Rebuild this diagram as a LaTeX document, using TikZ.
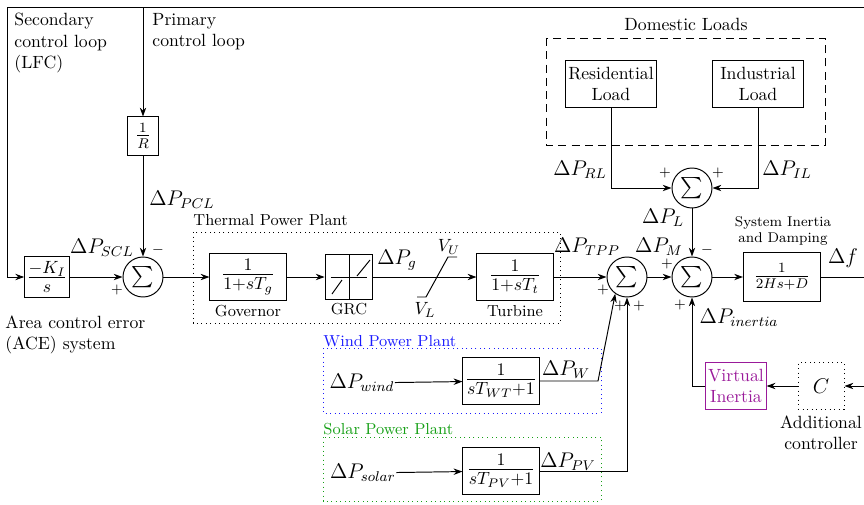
\documentclass[tikz,border=0pt]{standalone}
\usepackage{amsmath,amssymb}
\usepackage{xcolor}
\usetikzlibrary{arrows.meta,positioning,calc}
\definecolor{WindBlue}{HTML}{1A1AFF}
\definecolor{SolarGreen}{HTML}{16A016}
\definecolor{InertiaPurple}{HTML}{9A1A9A}

\begin{document}
\begin{tikzpicture}[x=0.565pt,y=-0.565pt,>={Stealth[length=5pt,width=3.6pt]},line width=0.55pt]
  \tikzset{block/.style={draw,minimum width=43pt,minimum height=26.5pt,inner sep=1pt,font=\Large},
    sumnode/.style={draw,circle,minimum size=22.6pt,inner sep=0pt,font=\large},
    sig/.style={font=\large,inner sep=0pt},
    sgn/.style={font=\footnotesize,inner sep=0pt},
    note/.style={align=left,inner sep=0pt},
    caption/.style={font=\small,inner sep=0pt},
    plant/.style={draw,dotted,line width=0.55pt}}
  \useasboundingbox (0,0) rectangle (864,504);
  \node[block,minimum width=21.5pt,minimum height=23.7pt] (ki) at (47,277) {$\frac{-K_I}{s}$};
  \node[sumnode] (sum1) at (143,277) {$\sum$};
  \node[block,minimum width=18pt,minimum height=21.5pt,font=\large] (invR) at (143,136) {$\frac{1}{R}$};
  \node[block] (gov) at (248,277) {$\frac{1}{1+sT_g}$};
  \node[block,minimum width=27pt,minimum height=25pt] (grc) at (349,277) {};
  \node[block] (tur) at (515,277) {$\frac{1}{1+sT_t}$};
  \node[sumnode] (sum2) at (627,277) {$\sum$};
  \node[sumnode] (sum3) at (692,277) {$\sum$};
  \node[block,minimum width=43.5pt,minimum height=28pt,font=\large] (sys) at (782,277) {$\frac{1}{2Hs+D}$};
  \node[sumnode] (sumL) at (692,188) {$\sum$};
  \node[block,minimum width=51.4pt,minimum height=27pt,font=\normalsize,align=center] (res) at (611,84) {Residential\\Load};
  \node[block,minimum width=51pt,minimum height=27pt,font=\normalsize,align=center] (ind) at (758,84) {Industrial\\Load};
  \node[block,minimum height=27pt] (wind) at (501,381) {$\frac{1}{sT_{WT}+1}$};
  \node[block,minimum height=27pt] (solar) at (501,471) {$\frac{1}{sT_{PV}+1}$};
  \node[block,draw=InertiaPurple,text=InertiaPurple,minimum width=34pt,minimum height=27pt,font=\normalsize,align=center] (vi) at (736,386) {Virtual\\Inertia};
  \node[block,plant,minimum width=26pt,minimum height=26.5pt,font=\large] (ctrl) at (821,386) {$C$};
  \node[below=2pt of gov,caption] {Governor};
  \node[below=2pt of grc,caption] {GRC};
  \node[below=2pt of tur,caption] {Turbine};
  \node[below=3pt of ctrl,align=center,inner sep=0pt] {Additional\\controller};
  \node[sig] (pwind) at (362,383) {$\Delta P_{wind}$};
  \node[sig] (psolar) at (363,473) {$\Delta P_{solar}$};
  \coordinate (fbL) at (7,7);
  \coordinate (fbR) at (864,7);
  \coordinate (fOut) at (864,277);
  \coordinate (cIn) at (864,386);
  \coordinate (wBend) at (598,381);
  \draw[plant] (193,232) rectangle (560,323);
  \draw[plant,WindBlue] (323,348) rectangle (601,413);
  \draw[plant,SolarGreen] (323,437) rectangle (601,501);
  \draw[dash pattern=on 4.5pt off 3pt] (546,38) rectangle (825,145);
  \node[note,anchor=west] at (14,43) {Secondary\\control loop\\(LFC)};
  \node[note,anchor=west] at (152,32) {Primary\\control loop};
  \node[note,anchor=west] at (5,335) {Area control error\\(ACE) system};
  \node at (686,24) {Domestic Loads};
  \node[caption,anchor=west] at (193,220) {Thermal Power Plant};
  \node[caption,anchor=west,WindBlue] at (323,341) {Wind Power Plant};
  \node[caption,anchor=west,SolarGreen] at (323,429) {Solar Power Plant};
  \node[font=\footnotesize,align=center,inner sep=0pt] at (783,231) {System Inertia\\and Damping};
  \node[sig] at (182,200) {$\Delta P_{PCL}$};
  \node[sig] at (102,248) {$\Delta P_{SCL}$};
  \node[sig] at (397,260) {$\Delta P_g$};
  \node[sig,font=\normalsize] at (449,247) {$V_U$};
  \node[sig,font=\normalsize] at (425,310) {$V_L$};
  \node[sig] at (587,247) {$\Delta P_{TPP}$};
  \node[sig] at (659,247) {$\Delta P_M$};
  \node[sig] at (663,218) {$\Delta P_L$};
  \node[sig] at (580,170) {$\Delta P_{RL}$};
  \node[sig] at (787,170) {$\Delta P_{IL}$};
  \node[sig] at (566,370) {$\Delta P_W$};
  \node[sig] at (568,462) {$\Delta P_{PV}$};
  \node[sig] at (739,318) {$\Delta P_{inertia}$};
  \node[sig] at (843,258) {$\Delta f$};
  \node[sgn] at (158,250) {$-$};
  \node[sgn] at (117,290) {$+$};
  \node[sgn] at (665,173) {$+$};
  \node[sgn] at (718,173) {$+$};
  \node[sgn] at (603,290) {$+$};
  \node[sgn] at (620,306) {$+$};
  \node[sgn] at (639,306) {$+$};
  \node[sgn] at (667,264) {$+$};
  \node[sgn] at (707,250) {$-$};
  \node[sgn] at (680,305) {$+$};
  \draw ($(grc.north)$) -- (grc.south);
  \draw ($(grc.west)+(6,0)$) -- ($(grc.east)+(-6,0)$);
  \draw ($(grc.center)+(-17,17)$) -- ($(grc.center)+(-7,3)$);
  \draw ($(grc.center)+(8,-1)$) -- ($(grc.center)+(21,-17)$);
  \draw (417,297) -- (426,297) -- (448,257) -- (457,257);
  \draw[->] (fbR) -- (fbL) |- (ki.west);
  \draw[->] (invR |- fbL) -- (invR);
  \draw[->] (invR) -- (sum1);
  \draw[->] (ki) -- (sum1);
  \draw[->] (sum1) -- (gov);
  \draw[->] (gov) -- (grc);
  \draw[->] (grc) -- (tur);
  \draw[->] (tur) -- (sum2);
  \draw[->] (sum2) -- (sum3);
  \draw[->] (sum3) -- (sys);
  \draw (sys) -- (fOut);
  \draw[->] (res.south) |- (sumL.west);
  \draw[->] (ind.south) |- (sumL.east);
  \draw[->] (sumL) -- (sum3);
  \draw[->] (pwind) -- (wind);
  \draw[->] (psolar) -- (solar);
  \draw[->] (wind.east) -- (wBend) -- (sum2.-125);
  \draw[->] (solar.east) -| (sum2.south);
  \draw[->] (vi.west) -| (sum3.south);
  \draw[->] (ctrl) -- (vi);
  \draw[->] (cIn) -- (ctrl);
\end{tikzpicture}
\end{document}
